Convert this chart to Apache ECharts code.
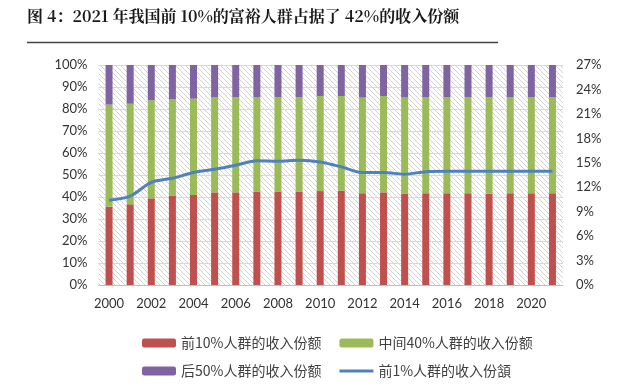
<!DOCTYPE html>
<html>
<head>
<meta charset="utf-8">
<script src="https://cdn.jsdelivr.net/npm/echarts@6/dist/echarts.min.js"></script>
<style>html,body{margin:0;padding:0;background:#fff;}#c{width:640px;height:385px;}</style>
</head>
<body>
<div id="c"></div>
<script>
var years = ['2000','2001','2002','2003','2004','2005','2006','2007','2008','2009','2010','2011','2012','2013','2014','2015','2016','2017','2018','2019','2020','2021'];
var top10 = [35.6, 36.7, 39.4, 40.5, 40.9, 42.1, 42.1, 42.3, 42.3, 42.3, 42.7, 42.9, 41.7, 42.1, 41.4, 41.7, 41.7, 41.7, 41.5, 41.7, 41.7, 41.7];
var mid40 = [46.4, 45.7, 44.6, 43.9, 43.8, 43.2, 43.2, 43.0, 43.0, 43.1, 43.2, 43.0, 43.5, 43.8, 43.8, 43.75, 43.75, 43.75, 43.95, 43.75, 43.75, 43.75];
var bottom50 = [18.0, 17.6, 16.0, 15.6, 15.3, 14.7, 14.7, 14.7, 14.7, 14.6, 14.1, 14.1, 14.8, 14.1, 14.8, 14.55, 14.55, 14.55, 14.55, 14.55, 14.55, 14.55];
var top1 = [10.4, 10.9, 12.6, 13.1, 13.8, 14.2, 14.7, 15.25, 15.2, 15.3, 15.1, 14.5, 13.8, 13.8, 13.6, 13.9, 13.95, 13.95, 13.95, 13.95, 13.95, 13.95];
var leftTicks = 10;
var rightMax = 27, rightStep = 3;

var hatch = document.createElement('canvas');
hatch.width = 5; hatch.height = 5;
var hc = hatch.getContext('2d');
hc.fillStyle = '#ffffff'; hc.fillRect(0,0,5,5);
hc.strokeStyle = '#d2d2d2'; hc.lineWidth = 1;
hc.beginPath();
hc.moveTo(-1,-1); hc.lineTo(6,6);
hc.moveTo(-1,4); hc.lineTo(1,6);
hc.moveTo(4,-1); hc.lineTo(6,1);
hc.stroke();

var font = "Lato, 'Noto Sans CJK SC', sans-serif";
var cjk = "'Noto Sans CJK SC', sans-serif";
var chart = echarts.init(document.getElementById('c'), null, {renderer: 'canvas'});
chart.setOption({
  animation: false,
  backgroundColor: '#fff',
  graphic: [
    {type: 'text', left: 27, top: 8, style: {text: '图 4：2021 年我国前 10%的富裕人群占据了 42%的收入份额', font: "bold 16px 'Noto Serif CJK SC', 'Noto Sans CJK SC', serif", fill: '#1a1a1a'}},
    {type: 'line', shape: {x1: 27, y1: 42.5, x2: 498, y2: 42.5}, style: {stroke: '#444', lineWidth: 1.5}}
  ],
  grid: {left: 98.5, right: 77, top: 65, bottom: 100, show: true, borderWidth: 0, backgroundColor: {image: hatch, repeat: 'repeat'}},
  legend: [
    {left: 137, top: 331, itemWidth: 34, itemHeight: 9, itemGap: 18, textStyle: {fontFamily: cjk, fontSize: 14, color: '#404040'}, data: ['前10%人群的收入份额', '中间40%人群的收入份额']},
    {left: 137, top: 359, itemWidth: 34, itemHeight: 9, itemGap: 18, textStyle: {fontFamily: cjk, fontSize: 14, color: '#404040'}, data: ['后50%人群的收入份额', {name: '前1%人群的收入份頷', icon: 'path://M0,0L34,0L34,3L0,3Z'}]}
  ],
  xAxis: {
    type: 'category', data: years,
    axisLine: {lineStyle: {color: '#bfbfbf'}},
    axisTick: {interval: 1, length: 4, lineStyle: {color: '#bfbfbf'}},
    axisLabel: {interval: 1, margin: 12, fontFamily: font, fontSize: 13, color: '#333'}
  },
  yAxis: [
    {type: 'value', min: 0, max: 100, interval: leftTicks,
     axisLine: {show: false}, axisTick: {show: false},
     splitLine: {lineStyle: {color: '#d9d9d9'}},
     axisLabel: {formatter: '{value}%', margin: 11, fontFamily: font, fontSize: 13, color: '#333'}},
    {type: 'value', min: 0, max: rightMax, interval: rightStep,
     axisLine: {show: false}, axisTick: {show: false}, splitLine: {show: false},
     axisLabel: {formatter: '{value}%', margin: 13, fontFamily: font, fontSize: 13, color: '#333'}}
  ],
  series: [
    {name: '前10%人群的收入份额', type: 'bar', stack: 's', barWidth: 7, data: top10, itemStyle: {color: '#C0504D'}},
    {name: '中间40%人群的收入份额', type: 'bar', stack: 's', barWidth: 7, data: mid40, itemStyle: {color: '#9BBB59'}},
    {name: '后50%人群的收入份额', type: 'bar', stack: 's', barWidth: 7, data: bottom50, itemStyle: {color: '#8064A2'}},
    {name: '前1%人群的收入份頷', type: 'line', yAxisIndex: 1, data: top1, symbol: 'none', smooth: 0.3,
     lineStyle: {color: '#4F81BD', width: 3}, itemStyle: {color: '#4F81BD'}}
  ]
});
</script>
</body>
</html>
